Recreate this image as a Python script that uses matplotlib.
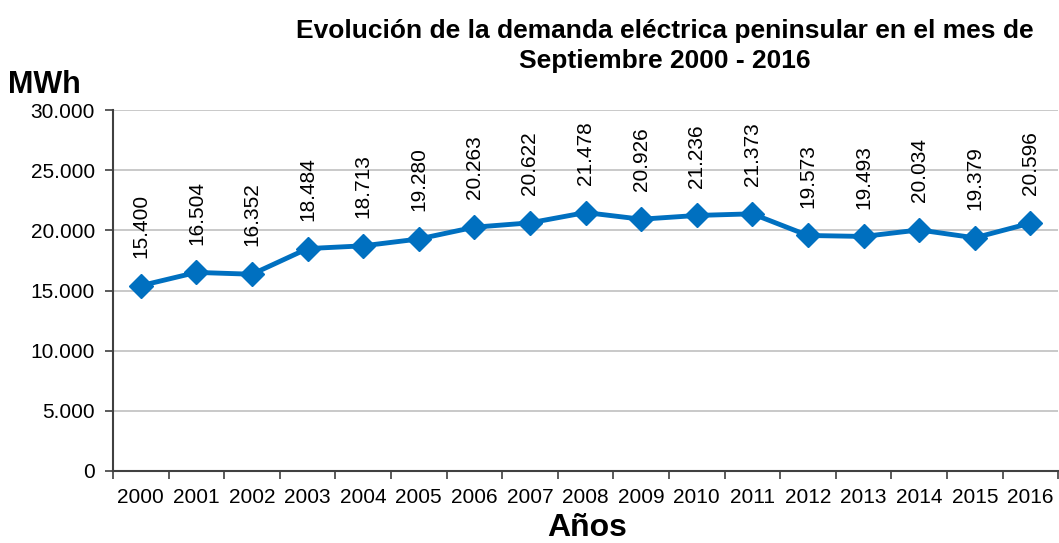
import matplotlib
matplotlib.use('Agg')
import matplotlib.pyplot as plt
from matplotlib.ticker import FuncFormatter
import numpy as np

years = ['2000', '2001', '2002', '2003', '2004', '2005', '2006', '2007', '2008',
         '2009', '2010', '2011', '2012', '2013', '2014', '2015', '2016']
demanda = [15400, 16504, 16352, 18484, 18713, 19280, 20263, 20622, 21478,
           20926, 21236, 21373, 19573, 19493, 20034, 19379, 20596]

plt.rcParams['font.family'] = ['Liberation Sans', 'DejaVu Sans']

def miles(v, pos=None):
    return f'{int(round(v)):,}'.replace(',', '.')

fig = plt.figure(figsize=(10.59, 5.43), dpi=100)
ax = fig.add_axes([0.1067, 0.1326, 0.8925, 0.6648])

x = np.arange(len(years))
ax.plot(x, demanda, color='#0070C0', linewidth=3.5, marker='D', markersize=12, zorder=3)

for xi, v in zip(x, demanda):
    ax.annotate(miles(v), (xi, v), xytext=(0, 20), textcoords='offset points',
                rotation=90, ha='center', va='bottom', fontsize=15, color='#000000')

ax.set_xlim(-0.5, len(years) - 0.5)
ax.set_ylim(0, 30000)
ax.set_yticks(np.arange(0, 30001, 5000))
ax.yaxis.set_major_formatter(FuncFormatter(miles))
ax.set_xticks(x)
ax.set_xticklabels(years)
ax.set_xticks(np.arange(-0.5, len(years), 1), minor=True)
ax.tick_params(axis='x', which='major', length=0, labelsize=15, pad=12)
ax.tick_params(axis='x', which='minor', length=6, width=1.2, color='#404040')
ax.tick_params(axis='y', length=6, width=1.2, color='#404040', labelsize=15, pad=7)

ax.grid(axis='y', color='#C0C0C0', linewidth=1.2)
ax.set_axisbelow(True)
for s in ['top', 'right']:
    ax.spines[s].set_visible(False)
for s in ['left', 'bottom']:
    ax.spines[s].set_color('#404040')
    ax.spines[s].set_linewidth(1.5)

fig.text(0.628, 0.916, 'Evolución de la demanda eléctrica peninsular en el mes de\nSeptiembre 2000 - 2016',
         ha='center', va='center', fontsize=19, fontweight='bold', linespacing=1.32)
fig.text(0.008, 0.843, 'MWh', ha='left', va='center', fontsize=22, fontweight='bold')
fig.text(0.554, 0.027, 'Años', ha='center', va='center', fontsize=23, fontweight='bold')

fig.savefig('out.png', dpi=100)
